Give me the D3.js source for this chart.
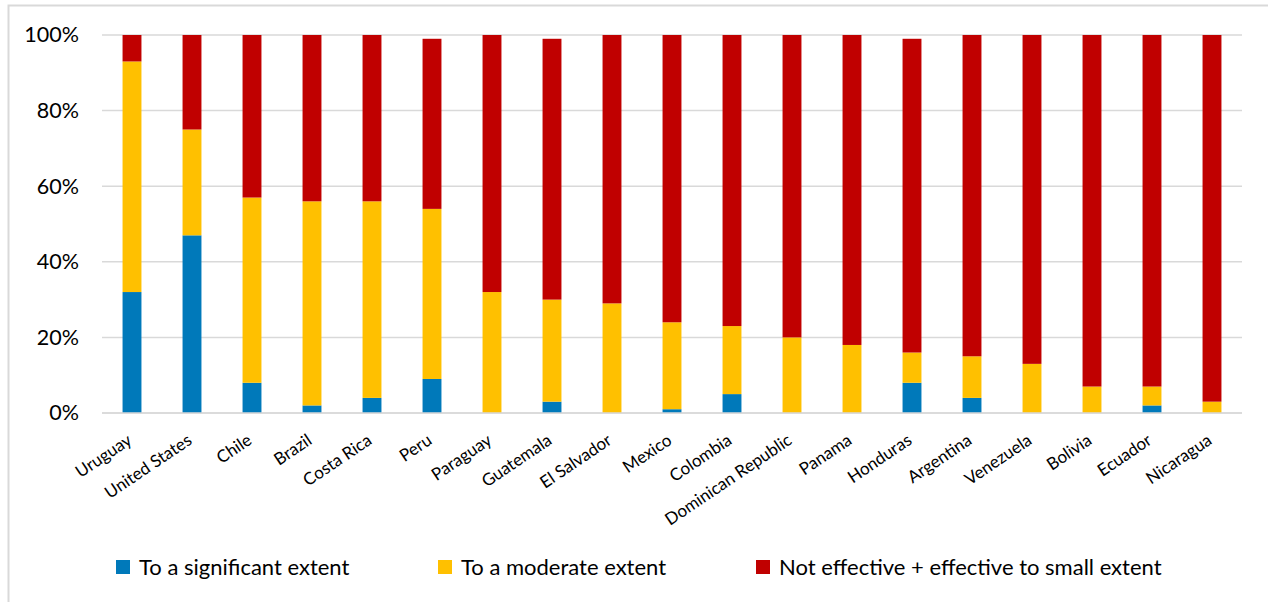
<!DOCTYPE html>
<html>
<head>
<meta charset="utf-8">
<script src="https://cdn.jsdelivr.net/npm/d3@7/dist/d3.min.js"></script>
<style>
  html, body { margin: 0; padding: 0; background: #fff; }
  svg { display: block; font-family: Lato, "Open Sans", sans-serif; }
</style>
</head>
<body>
<svg id="chart" width="1268" height="602"></svg>
<script>
const categories = ["Uruguay","United States","Chile","Brazil","Costa Rica","Peru","Paraguay","Guatemala","El Salvador","Mexico","Colombia","Dominican Republic","Panama","Honduras","Argentina","Venezuela","Bolivia","Ecuador","Nicaragua"];
const significant = [32,47,8,2,4,9,0,3,0,1,5,0,0,8,4,0,0,2,0];
const moderate    = [61,28,49,54,52,45,32,27,29,23,18,20,18,8,11,13,7,5,3];
const notEffective= [7,25,43,44,44,45,68,69,71,76,77,80,82,83,85,87,93,93,97];
const seriesNames = ["To a significant extent","To a moderate extent","Not effective + effective to small extent"];
const seriesColors = ["#0079BA","#FFC000","#C00000"];
const yTicks = [0,20,40,60,80,100];

const svg = d3.select("#chart");
const W = 1268, H = 602;
const plot = {left: 102, right: 1242, top: 35, bottom: 413};

// outer frame
svg.append("rect").attr("x", 8.5).attr("y", 5.5).attr("width", W + 10).attr("height", H + 10)
  .attr("fill", "none").attr("stroke", "#d9d9d9").attr("stroke-width", 2);

const x = d3.scaleBand().domain(categories).range([plot.left, plot.right]).paddingInner(0.685).paddingOuter(0.3425);
const y = d3.scaleLinear().domain([0, 100]).range([plot.bottom, plot.top]);

// gridlines
svg.append("g").selectAll("line").data(yTicks).join("line")
  .attr("x1", plot.left).attr("x2", plot.right)
  .attr("y1", d => y(d)).attr("y2", d => y(d))
  .attr("stroke", "#d9d9d9").attr("stroke-width", 1.5);

// y axis labels
const yAxis = d3.axisLeft(y).tickValues(yTicks).tickFormat(d => d + "%").tickSize(0).tickPadding(23);
const gy = svg.append("g").attr("transform", `translate(${plot.left},0)`).call(yAxis);
gy.select(".domain").remove();
gy.selectAll("text").attr("font-size", 21.5).attr("fill", "#000").attr("font-family", "Lato, sans-serif");

// stacked data
const rows = categories.map((c, i) => ({cat: c, s0: significant[i], s1: moderate[i], s2: notEffective[i]}));
const stack = d3.stack().keys(["s0","s1","s2"])(rows);

svg.append("g").selectAll("g").data(stack).join("g")
  .attr("fill", (d, i) => seriesColors[i])
  .selectAll("rect").data(d => d).join("rect")
  .attr("x", d => x(d.data.cat))
  .attr("width", x.bandwidth())
  .attr("y", d => y(d[1]))
  .attr("height", d => Math.max(0, y(d[0]) - y(d[1])));

// x axis baseline
svg.append("line").attr("x1", plot.left).attr("x2", plot.right)
  .attr("y1", y(0)).attr("y2", y(0)).attr("stroke", "#d9d9d9").attr("stroke-width", 1.5);

// x labels
const xAxis = d3.axisBottom(x).tickSize(0).tickPadding(0);
const gx = svg.append("g").attr("transform", `translate(0,${plot.bottom})`).call(xAxis);
gx.select(".domain").remove();
gx.selectAll("text")
  .attr("font-size", 17).attr("fill", "#000").attr("font-family", "Lato, sans-serif")
  .attr("text-anchor", "end")
  .attr("dy", null).attr("y", null)
  .attr("transform", "translate(1,30) rotate(-34)");

// legend
const legendX = [116, 438, 756];
const lg = svg.append("g").selectAll("g").data(seriesNames).join("g")
  .attr("transform", (d, i) => `translate(${legendX[i]},560)`);
lg.append("rect").attr("width", 14).attr("height", 14).attr("fill", (d, i) => seriesColors[i]);
lg.append("text").attr("x", 23).attr("y", 7).attr("dy", "0.35em")
  .attr("font-size", 22).attr("fill", "#000").text(d => d);
</script>
</body>
</html>
